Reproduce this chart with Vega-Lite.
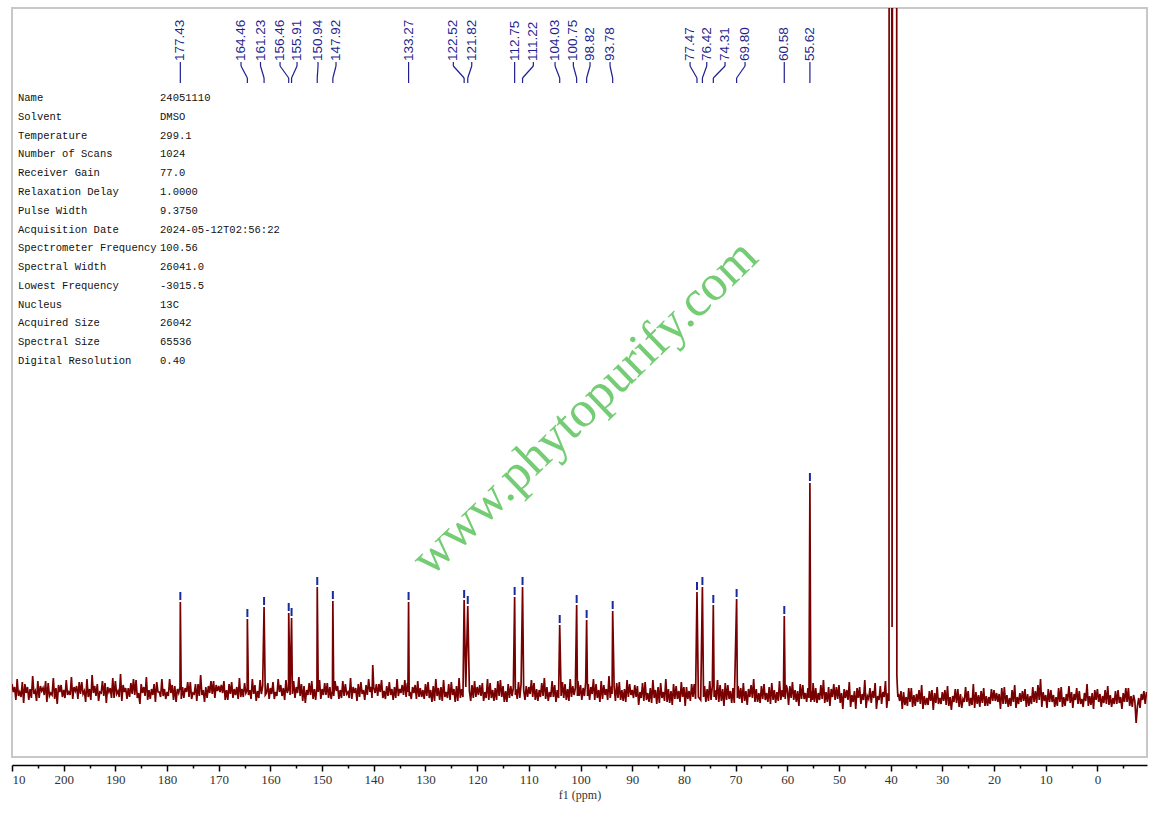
{
"$schema":"https://vega.github.io/schema/vega-lite/v6.json",
"width":1135,"height":749,
"autosize":"none",
"padding":{"left":12,"top":8,"right":11,"bottom":56},
"background":"white",
"config":{"view":{"stroke":"#c8c8c8","strokeWidth":2}},
"datasets":{
"spec":[
{"p":210,"i":9},{"p":209.75,"i":1},{"p":209.5,"i":6},{"p":209.25,"i":-7},{"p":209,"i":14},{"p":208.75,"i":-3},{"p":208.5,"i":1},{"p":208.25,"i":-4},{"p":208,"i":11},{"p":207.75,"i":-10},{"p":207.5,"i":9},{"p":207.25,"i":0},{"p":207,"i":6},{"p":206.75,"i":-7},{"p":206.5,"i":4},{"p":206.25,"i":-5},{"p":206,"i":17},{"p":205.75,"i":-1},{"p":205.5,"i":2},{"p":205.25,"i":-8},{"p":205,"i":12},{"p":204.75,"i":-5},{"p":204.5,"i":7},{"p":204.25,"i":2},{"p":204,"i":5},{"p":203.75,"i":-2},{"p":203.5,"i":12},{"p":203.25,"i":-9},{"p":203,"i":10},{"p":202.75,"i":-3},{"p":202.5,"i":0},{"p":202.25,"i":-2},{"p":202,"i":15},{"p":201.75,"i":-6},{"p":201.5,"i":5},{"p":201.25,"i":-11},{"p":201,"i":8},{"p":200.75,"i":1},{"p":200.5,"i":8},{"p":200.25,"i":-4},
{"p":200,"i":3},{"p":199.75,"i":-5},{"p":199.5,"i":13},{"p":199.25,"i":-2},{"p":199,"i":1},{"p":198.75,"i":-2},{"p":198.5,"i":16},{"p":198.25,"i":-6},{"p":198,"i":6},{"p":197.75,"i":2},{"p":197.5,"i":7},{"p":197.25,"i":-6},{"p":197,"i":11},{"p":196.75,"i":-1},{"p":196.5,"i":11},{"p":196.25,"i":-1},{"p":196,"i":2},{"p":195.75,"i":-9},{"p":195.5,"i":14},{"p":195.25,"i":-4},{"p":195,"i":4},{"p":194.75,"i":-7},{"p":194.5,"i":18},{"p":194.25,"i":0},{"p":194,"i":7},{"p":193.75,"i":-3},{"p":193.5,"i":9},{"p":193.25,"i":-8},{"p":193,"i":1},{"p":192.75,"i":0},{"p":192.5,"i":12},{"p":192.25,"i":-3},{"p":192,"i":10},{"p":191.75,"i":-10},{"p":191.5,"i":6},{"p":191.25,"i":1},{"p":191,"i":5},{"p":190.75,"i":-5},{"p":190.5,"i":15},{"p":190.25,"i":-5},
{"p":190,"i":12},{"p":189.75,"i":-1},{"p":189.5,"i":2},{"p":189.25,"i":-4},{"p":189,"i":19},{"p":188.75,"i":-8},{"p":188.5,"i":8},{"p":188.25,"i":1},{"p":188,"i":5},{"p":187.75,"i":-6},{"p":187.5,"i":5},{"p":187.25,"i":-4},{"p":187,"i":10},{"p":186.75,"i":-1},{"p":186.5,"i":14},{"p":186.25,"i":-2},{"p":186,"i":13},{"p":185.75,"i":-5},{"p":185.5,"i":0},{"p":185.25,"i":-11},{"p":185,"i":9},{"p":184.75,"i":0},{"p":184.5,"i":6},{"p":184.25,"i":-3},{"p":184,"i":16},{"p":183.75,"i":-7},{"p":183.5,"i":3},{"p":183.25,"i":-6},{"p":183,"i":4},{"p":182.75,"i":-2},{"p":182.5,"i":9},{"p":182.25,"i":-9},{"p":182,"i":11},{"p":181.75,"i":1},{"p":181.5,"i":1},{"p":181.25,"i":-4},{"p":181,"i":14},{"p":180.75,"i":-3},{"p":180.5,"i":4},{"p":180.25,"i":-6},
{"p":180,"i":1},{"p":179.75,"i":-3},{"p":179.5,"i":14},{"p":179.25,"i":0},{"p":179,"i":8},{"p":178.75,"i":-7},{"p":178.5,"i":7},{"p":178.25,"i":-9},{"p":178,"i":4},{"p":177.75,"i":0},{"p":177.5,"i":6},{"p":177.43,"i":91},{"p":177.25,"i":-6},{"p":177,"i":6},{"p":176.75,"i":-5},{"p":176.5,"i":5},{"p":176.25,"i":1},{"p":176,"i":11},{"p":175.75,"i":-4},{"p":175.5,"i":11},{"p":175.25,"i":-6},{"p":175,"i":0},{"p":174.75,"i":-1},{"p":174.5,"i":9},{"p":174.25,"i":-8},{"p":174,"i":9},{"p":173.75,"i":-3},{"p":173.5,"i":18},{"p":173.25,"i":-2},{"p":173,"i":3},{"p":172.75,"i":-9},{"p":172.5,"i":6},{"p":172.25,"i":-5},{"p":172,"i":7},{"p":171.75,"i":0},{"p":171.5,"i":12},{"p":171.25,"i":-1},{"p":171,"i":12},{"p":170.75,"i":-5},{"p":170.5,"i":8},{"p":170.25,"i":2},
{"p":170,"i":7},{"p":169.75,"i":1},{"p":169.5,"i":8},{"p":169.25,"i":0},{"p":169,"i":12},{"p":168.75,"i":-7},{"p":168.5,"i":3},{"p":168.25,"i":-7},{"p":168,"i":9},{"p":167.75,"i":-1},{"p":167.5,"i":11},{"p":167.25,"i":-5},{"p":167,"i":4},{"p":166.75,"i":-2},{"p":166.5,"i":6},{"p":166.25,"i":-6},{"p":166,"i":15},{"p":165.75,"i":-4},{"p":165.5,"i":4},{"p":165.25,"i":-4},{"p":165,"i":10},{"p":164.75,"i":0},{"p":164.5,"i":3},{"p":164.46,"i":74},{"p":164.25,"i":-2},{"p":164,"i":3},{"p":163.75,"i":-6},{"p":163.5,"i":14},{"p":163.25,"i":-1},{"p":163,"i":8},{"p":162.75,"i":-8},{"p":162.5,"i":2},{"p":162.25,"i":-5},{"p":162,"i":13},{"p":161.75,"i":-1},{"p":161.5,"i":7},{"p":161.23,"i":86},{"p":161,"i":-2},{"p":160.75,"i":0},{"p":160.5,"i":10},{"p":160.25,"i":-6},
{"p":160,"i":5},{"p":159.75,"i":-1},{"p":159.5,"i":11},{"p":159.25,"i":-6},{"p":159,"i":1},{"p":158.75,"i":-3},{"p":158.5,"i":14},{"p":158.25,"i":1},{"p":158,"i":8},{"p":157.75,"i":-3},{"p":157.5,"i":5},{"p":157.25,"i":-7},{"p":157,"i":13},{"p":156.75,"i":0},{"p":156.5,"i":4},{"p":156.46,"i":80},{"p":156.2,"i":-2},{"p":155.91,"i":75},{"p":155.75,"i":-1},{"p":155.5,"i":12},{"p":155.25,"i":-5},{"p":155,"i":6},{"p":154.75,"i":0},{"p":154.5,"i":16},{"p":154.25,"i":-3},{"p":154,"i":9},{"p":153.75,"i":-8},{"p":153.5,"i":7},{"p":153.25,"i":-10},{"p":153,"i":3},{"p":152.75,"i":-2},{"p":152.5,"i":10},{"p":152.25,"i":-2},{"p":152,"i":12},{"p":151.75,"i":-6},{"p":151.5,"i":4},{"p":151.25,"i":-7},{"p":151,"i":7},{"p":150.94,"i":106},{"p":150.75,"i":1},{"p":150.5,"i":13},{"p":150.25,"i":-6},
{"p":150,"i":4},{"p":149.75,"i":-2},{"p":149.5,"i":10},{"p":149.25,"i":-2},{"p":149,"i":10},{"p":148.75,"i":-5},{"p":148.5,"i":6},{"p":148.25,"i":-6},{"p":148,"i":2},{"p":147.92,"i":92},{"p":147.75,"i":-3},{"p":147.5,"i":12},{"p":147.25,"i":2},{"p":147,"i":7},{"p":146.75,"i":-6},{"p":146.5,"i":3},{"p":146.25,"i":-5},{"p":146,"i":12},{"p":145.75,"i":-3},{"p":145.5,"i":9},{"p":145.25,"i":-1},{"p":145,"i":1},{"p":144.75,"i":-5},{"p":144.5,"i":15},{"p":144.25,"i":-6},{"p":144,"i":6},{"p":143.75,"i":0},{"p":143.5,"i":5},{"p":143.25,"i":-8},{"p":143,"i":9},{"p":142.75,"i":-4},{"p":142.5,"i":11},{"p":142.25,"i":-1},{"p":142,"i":3},{"p":141.75,"i":-7},{"p":141.5,"i":8},{"p":141.25,"i":-2},{"p":141,"i":14},{"p":140.75,"i":1},{"p":140.5,"i":6},{"p":140.35,"i":-5},{"p":140.2,"i":28},
{"p":140,"i":5},{"p":139.75,"i":0},{"p":139.5,"i":9},{"p":139.25,"i":-3},{"p":139,"i":9},{"p":138.75,"i":1},{"p":138.5,"i":13},{"p":138.25,"i":-5},{"p":138,"i":2},{"p":137.75,"i":-6},{"p":137.5,"i":7},{"p":137.25,"i":-3},{"p":137,"i":11},{"p":136.75,"i":-2},{"p":136.5,"i":4},{"p":136.25,"i":-7},{"p":136,"i":6},{"p":135.75,"i":-5},{"p":135.5,"i":14},{"p":135.25,"i":-3},{"p":135,"i":4},{"p":134.75,"i":0},{"p":134.5,"i":8},{"p":134.25,"i":-2},{"p":134,"i":13},{"p":133.75,"i":-4},{"p":133.5,"i":10},{"p":133.4,"i":1},{"p":133.27,"i":91},{"p":133.15,"i":-3},{"p":133,"i":1},{"p":132.75,"i":-6},{"p":132.5,"i":6},{"p":132.25,"i":0},{"p":132,"i":8},{"p":131.75,"i":-6},{"p":131.5,"i":12},{"p":131.25,"i":-4},{"p":131,"i":5},{"p":130.75,"i":-4},{"p":130.5,"i":3},{"p":130.25,"i":-6},
{"p":130,"i":9},{"p":129.75,"i":-3},{"p":129.5,"i":11},{"p":129.25,"i":-5},{"p":129,"i":3},{"p":128.75,"i":-9},{"p":128.5,"i":7},{"p":128.25,"i":-8},{"p":128,"i":14},{"p":127.75,"i":-3},{"p":127.5,"i":5},{"p":127.25,"i":-7},{"p":127,"i":6},{"p":126.75,"i":-8},{"p":126.5,"i":13},{"p":126.25,"i":-4},{"p":126,"i":1},{"p":125.75,"i":-5},{"p":125.5,"i":9},{"p":125.25,"i":-7},{"p":125,"i":11},{"p":124.75,"i":-2},{"p":124.5,"i":4},{"p":124.25,"i":-9},{"p":124,"i":7},{"p":123.75,"i":-8},{"p":123.5,"i":15},{"p":123.25,"i":-5},{"p":123,"i":4},{"p":122.75,"i":-4},{"p":122.52,"i":93},{"p":122.2,"i":6},{"p":121.82,"i":87},{"p":121.5,"i":2},{"p":121.25,"i":-8},{"p":121,"i":8},{"p":120.75,"i":-5},{"p":120.5,"i":12},{"p":120.25,"i":-4},
{"p":120,"i":6},{"p":119.75,"i":-2},{"p":119.5,"i":8},{"p":119.25,"i":-3},{"p":119,"i":10},{"p":118.75,"i":-8},{"p":118.5,"i":1},{"p":118.25,"i":-5},{"p":118,"i":14},{"p":117.75,"i":-7},{"p":117.5,"i":10},{"p":117.25,"i":-5},{"p":117,"i":3},{"p":116.75,"i":-8},{"p":116.5,"i":5},{"p":116.25,"i":-7},{"p":116,"i":12},{"p":115.75,"i":-3},{"p":115.5,"i":13},{"p":115.25,"i":-4},{"p":115,"i":7},{"p":114.75,"i":-9},{"p":114.5,"i":2},{"p":114.25,"i":-9},{"p":114,"i":9},{"p":113.75,"i":-5},{"p":113.5,"i":7},{"p":113.25,"i":-3},{"p":113,"i":5},{"p":112.75,"i":96},{"p":112.6,"i":-2},{"p":112.5,"i":4},{"p":112.25,"i":-6},{"p":112,"i":11},{"p":111.75,"i":-5},{"p":111.5,"i":9},{"p":111.22,"i":106},{"p":111,"i":3},{"p":110.75,"i":-7},{"p":110.5,"i":7},{"p":110.25,"i":-4},
{"p":110,"i":6},{"p":109.75,"i":-1},{"p":109.5,"i":13},{"p":109.25,"i":-4},{"p":109,"i":10},{"p":108.75,"i":-7},{"p":108.5,"i":4},{"p":108.25,"i":-8},{"p":108,"i":3},{"p":107.75,"i":-4},{"p":107.5,"i":10},{"p":107.25,"i":-3},{"p":107,"i":15},{"p":106.75,"i":-6},{"p":106.5,"i":6},{"p":106.25,"i":-8},{"p":106,"i":1},{"p":105.75,"i":-4},{"p":105.5,"i":12},{"p":105.25,"i":-4},{"p":105,"i":8},{"p":104.75,"i":-9},{"p":104.5,"i":3},{"p":104.25,"i":-5},{"p":104.03,"i":68},{"p":103.75,"i":-3},{"p":103.5,"i":11},{"p":103.25,"i":-5},{"p":103,"i":9},{"p":102.75,"i":-7},{"p":102.5,"i":4},{"p":102.25,"i":-8},{"p":102,"i":14},{"p":101.75,"i":-4},{"p":101.5,"i":7},{"p":101.25,"i":-2},{"p":101,"i":5},{"p":100.75,"i":88},{"p":100.6,"i":-3},{"p":100.5,"i":12},{"p":100.25,"i":-3},
{"p":100,"i":8},{"p":99.75,"i":-7},{"p":99.5,"i":5},{"p":99.25,"i":-3},{"p":99,"i":11},{"p":98.82,"i":73},{"p":98.65,"i":-3},{"p":98.5,"i":9},{"p":98.25,"i":-7},{"p":98,"i":6},{"p":97.75,"i":-1},{"p":97.5,"i":14},{"p":97.25,"i":-7},{"p":97,"i":9},{"p":96.75,"i":-5},{"p":96.5,"i":3},{"p":96.25,"i":-9},{"p":96,"i":12},{"p":95.75,"i":-6},{"p":95.5,"i":8},{"p":95.25,"i":-2},{"p":95,"i":4},{"p":94.75,"i":-7},{"p":94.5,"i":17},{"p":94.25,"i":-5},{"p":94,"i":7},{"p":93.9,"i":-1},{"p":93.78,"i":82},{"p":93.5,"i":6},{"p":93.25,"i":-8},{"p":93,"i":10},{"p":92.75,"i":-5},{"p":92.5,"i":11},{"p":92.25,"i":-7},{"p":92,"i":3},{"p":91.75,"i":-8},{"p":91.5,"i":4},{"p":91.25,"i":-9},{"p":91,"i":13},{"p":90.75,"i":-4},{"p":90.5,"i":9},{"p":90.25,"i":-2},
{"p":90,"i":3},{"p":89.75,"i":-5},{"p":89.5,"i":8},{"p":89.25,"i":-4},{"p":89,"i":7},{"p":88.75,"i":-12},{"p":88.5,"i":1},{"p":88.25,"i":-5},{"p":88,"i":10},{"p":87.75,"i":-8},{"p":87.5,"i":11},{"p":87.25,"i":-7},{"p":87,"i":0},{"p":86.75,"i":-9},{"p":86.5,"i":5},{"p":86.25,"i":-10},{"p":86,"i":13},{"p":85.75,"i":-5},{"p":85.5,"i":3},{"p":85.25,"i":-11},{"p":85,"i":6},{"p":84.75,"i":-10},{"p":84.5,"i":10},{"p":84.25,"i":-5},{"p":84,"i":1},{"p":83.75,"i":-8},{"p":83.5,"i":14},{"p":83.25,"i":-9},{"p":83,"i":4},{"p":82.75,"i":-10},{"p":82.5,"i":2},{"p":82.25,"i":-12},{"p":82,"i":9},{"p":81.75,"i":-6},{"p":81.5,"i":7},{"p":81.25,"i":-6},{"p":81,"i":2},{"p":80.75,"i":-9},{"p":80.5,"i":11},{"p":80.25,"i":-4},
{"p":80,"i":6},{"p":79.75,"i":-13},{"p":79.5,"i":6},{"p":79.25,"i":-6},{"p":79,"i":2},{"p":78.75,"i":-8},{"p":78.5,"i":9},{"p":78.25,"i":-4},{"p":78,"i":9},{"p":77.75,"i":-6},{"p":77.47,"i":101},{"p":77.2,"i":-4},{"p":76.75,"i":-7},{"p":76.42,"i":106},{"p":76.2,"i":-4},{"p":76,"i":7},{"p":75.75,"i":-9},{"p":75.5,"i":4},{"p":75.25,"i":-8},{"p":75,"i":12},{"p":74.75,"i":-7},{"p":74.5,"i":7},{"p":74.31,"i":88},{"p":74.15,"i":-4},{"p":74,"i":3},{"p":73.75,"i":-7},{"p":73.5,"i":13},{"p":73.25,"i":-9},{"p":73,"i":8},{"p":72.75,"i":-8},{"p":72.5,"i":4},{"p":72.25,"i":-13},{"p":72,"i":10},{"p":71.75,"i":-7},{"p":71.5,"i":8},{"p":71.25,"i":-6},{"p":71,"i":2},{"p":70.75,"i":-10},{"p":70.5,"i":5},{"p":70.25,"i":-10},
{"p":69.8,"i":94},{"p":69.65,"i":-5},{"p":69.5,"i":7},{"p":69.25,"i":-6},{"p":69,"i":5},{"p":68.75,"i":-10},{"p":68.5,"i":10},{"p":68.25,"i":-8},{"p":68,"i":2},{"p":67.75,"i":-12},{"p":67.5,"i":4},{"p":67.25,"i":-4},{"p":67,"i":8},{"p":66.75,"i":-5},{"p":66.5,"i":14},{"p":66.25,"i":-9},{"p":66,"i":4},{"p":65.75,"i":-9},{"p":65.5,"i":0},{"p":65.25,"i":-10},{"p":65,"i":7},{"p":64.75,"i":-6},{"p":64.5,"i":9},{"p":64.25,"i":-7},{"p":64,"i":0},{"p":63.75,"i":-9},{"p":63.5,"i":6},{"p":63.25,"i":-11},{"p":63,"i":10},{"p":62.75,"i":-7},{"p":62.5,"i":3},{"p":62.25,"i":-10},{"p":62,"i":1},{"p":61.75,"i":-8},{"p":61.5,"i":12},{"p":61.25,"i":-7},{"p":61,"i":3},{"p":60.75,"i":-4},{"p":60.58,"i":77},{"p":60.4,"i":-6},{"p":60.2,"i":8},
{"p":60,"i":4},{"p":59.75,"i":-12},{"p":59.5,"i":7},{"p":59.25,"i":-5},{"p":59,"i":11},{"p":58.75,"i":-7},{"p":58.5,"i":3},{"p":58.25,"i":-9},{"p":58,"i":2},{"p":57.75,"i":-13},{"p":57.5,"i":9},{"p":57.25,"i":-6},{"p":57,"i":8},{"p":56.75,"i":-6},{"p":56.5,"i":0},{"p":56.25,"i":-9},{"p":56,"i":5},{"p":55.8,"i":-5},{"p":55.62,"i":210},{"p":55.45,"i":-9},{"p":55.3,"i":2},{"p":55.15,"i":-7},{"p":55,"i":10},{"p":54.75,"i":-9},{"p":54.5,"i":5},{"p":54.25,"i":-10},{"p":54,"i":0},{"p":53.75,"i":-7},{"p":53.5,"i":8},{"p":53.25,"i":-6},{"p":53,"i":13},{"p":52.75,"i":-10},{"p":52.5,"i":1},{"p":52.25,"i":-9},{"p":52,"i":6},{"p":51.75,"i":-13},{"p":51.5,"i":4},{"p":51.25,"i":-4},{"p":51,"i":9},{"p":50.75,"i":-7},{"p":50.5,"i":6},{"p":50.25,"i":-6},
{"p":50,"i":8},{"p":49.75,"i":-10},{"p":49.5,"i":0},{"p":49.25,"i":-16},{"p":49,"i":4},{"p":48.75,"i":-5},{"p":48.5,"i":3},{"p":48.25,"i":-7},{"p":48,"i":11},{"p":47.75,"i":-14},{"p":47.5,"i":-2},{"p":47.25,"i":-9},{"p":47,"i":2},{"p":46.75,"i":-16},{"p":46.5,"i":5},{"p":46.25,"i":-5},{"p":46,"i":6},{"p":45.75,"i":-11},{"p":45.5,"i":-1},{"p":45.25,"i":-7},{"p":45,"i":13},{"p":44.75,"i":-15},{"p":44.5,"i":-3},{"p":44.25,"i":-6},{"p":44,"i":5},{"p":43.75,"i":-10},{"p":43.5,"i":2},{"p":43.25,"i":-5},{"p":43,"i":10},{"p":42.75,"i":-16},{"p":42.5,"i":-3},{"p":42.25,"i":-7},{"p":42,"i":7},{"p":41.75,"i":-11},{"p":41.5,"i":1},{"p":41.25,"i":-4},{"p":41,"i":12},{"p":40.75,"i":-15},{"p":40.5,"i":0},
{"p":40.32,"i":-8},{"p":40.22,"i":3000},{"p":40.0,"i":3000},{"p":39.72,"i":66},{"p":39.45,"i":3000},{"p":38.92,"i":3000},{"p":38.8,"i":18},{"p":38.72,"i":8},{"p":38.6,"i":-4},
{"p":38.5,"i":-1},{"p":38.25,"i":-8},{"p":38,"i":2},{"p":37.75,"i":-16},{"p":37.5,"i":1},{"p":37.25,"i":-12},{"p":37,"i":-4},{"p":36.75,"i":-13},{"p":36.5,"i":5},{"p":36.25,"i":-9},{"p":36,"i":5},{"p":35.75,"i":-14},{"p":35.5,"i":-2},{"p":35.25,"i":-13},{"p":35,"i":-1},{"p":34.75,"i":-9},{"p":34.5,"i":3},{"p":34.25,"i":-11},{"p":34,"i":8},{"p":33.75,"i":-16},{"p":33.5,"i":-3},{"p":33.25,"i":-12},{"p":33,"i":-5},{"p":32.75,"i":-12},{"p":32.5,"i":2},{"p":32.25,"i":-8},{"p":32,"i":3},{"p":31.75,"i":-17},{"p":31.5,"i":0},{"p":31.25,"i":-10},{"p":31,"i":6},{"p":30.75,"i":-11},{"p":30.5,"i":-5},{"p":30.25,"i":-11},
{"p":30,"i":1},{"p":29.75,"i":-8},{"p":29.5,"i":3},{"p":29.25,"i":-12},{"p":29,"i":7},{"p":28.75,"i":-13},{"p":28.5,"i":-4},{"p":28.25,"i":-17},{"p":28,"i":-3},{"p":27.75,"i":-9},{"p":27.5,"i":4},{"p":27.25,"i":-10},{"p":27,"i":4},{"p":26.75,"i":-14},{"p":26.5,"i":-1},{"p":26.25,"i":-15},{"p":26,"i":-6},{"p":25.75,"i":-9},{"p":25.5,"i":6},{"p":25.25,"i":-9},{"p":25,"i":2},{"p":24.75,"i":-13},{"p":24.5,"i":-5},{"p":24.25,"i":-12},{"p":24,"i":9},{"p":23.75,"i":-15},{"p":23.5,"i":1},{"p":23.25,"i":-11},{"p":23,"i":-2},{"p":22.75,"i":-14},{"p":22.5,"i":2},{"p":22.25,"i":-10},{"p":22,"i":5},{"p":21.75,"i":-13},{"p":21.5,"i":-3},{"p":21.25,"i":-13},{"p":21,"i":-4},{"p":20.75,"i":-11},{"p":20.5,"i":4},{"p":20.25,"i":-8},
{"p":20,"i":3},{"p":19.75,"i":-8},{"p":19.5,"i":0},{"p":19.25,"i":-9},{"p":19,"i":-1},{"p":18.75,"i":-16},{"p":18.5,"i":5},{"p":18.25,"i":-11},{"p":18,"i":6},{"p":17.75,"i":-11},{"p":17.5,"i":-2},{"p":17.25,"i":-14},{"p":17,"i":-5},{"p":16.75,"i":-13},{"p":16.5,"i":3},{"p":16.25,"i":-9},{"p":16,"i":8},{"p":15.75,"i":-15},{"p":15.5,"i":-4},{"p":15.25,"i":-11},{"p":15,"i":0},{"p":14.75,"i":-9},{"p":14.5,"i":2},{"p":14.25,"i":-8},{"p":14,"i":4},{"p":13.75,"i":-14},{"p":13.5,"i":-1},{"p":13.25,"i":-13},{"p":13,"i":-3},{"p":12.75,"i":-11},{"p":12.5,"i":6},{"p":12.25,"i":-9},{"p":12,"i":2},{"p":11.75,"i":-10},{"p":11.5,"i":8},{"p":11.25,"i":-7},{"p":11,"i":14},{"p":10.75,"i":-14},{"p":10.5,"i":1},{"p":10.25,"i":-8},
{"p":10,"i":-2},{"p":9.75,"i":-15},{"p":9.5,"i":4},{"p":9.25,"i":-9},{"p":9,"i":3},{"p":8.75,"i":-9},{"p":8.5,"i":-2},{"p":8.25,"i":-14},{"p":8,"i":-4},{"p":7.75,"i":-13},{"p":7.5,"i":5},{"p":7.25,"i":-9},{"p":7,"i":6},{"p":6.75,"i":-14},{"p":6.5,"i":-4},{"p":6.25,"i":-13},{"p":6,"i":-1},{"p":5.75,"i":-8},{"p":5.5,"i":7},{"p":5.25,"i":-10},{"p":5,"i":1},{"p":4.75,"i":-15},{"p":4.5,"i":-1},{"p":4.25,"i":-7},{"p":4,"i":5},{"p":3.75,"i":-11},{"p":3.5,"i":2},{"p":3.25,"i":-11},{"p":3,"i":-6},{"p":2.75,"i":-14},{"p":2.5,"i":0},{"p":2.25,"i":-8},{"p":2,"i":9},{"p":1.75,"i":-13},{"p":1.5,"i":-3},{"p":1.25,"i":-12},{"p":1,"i":0},{"p":0.75,"i":-16},{"p":0.5,"i":3},{"p":0.25,"i":-7},
{"p":0,"i":4},{"p":-0.25,"i":-9},{"p":-0.5,"i":-1},{"p":-0.75,"i":-14},{"p":-1,"i":-3},{"p":-1.25,"i":-10},{"p":-1.5,"i":3},{"p":-1.75,"i":-11},{"p":-2,"i":7},{"p":-2.25,"i":-12},{"p":-2.5,"i":-2},{"p":-2.75,"i":-14},{"p":-3,"i":-5},{"p":-3.25,"i":-11},{"p":-3.5,"i":2},{"p":-3.75,"i":-11},{"p":-4,"i":3},{"p":-4.25,"i":-10},{"p":-4.5,"i":-4},{"p":-4.75,"i":-16},{"p":-5,"i":0},{"p":-5.25,"i":-9},{"p":-5.5,"i":5},{"p":-5.75,"i":-9},{"p":-6,"i":5},{"p":-6.25,"i":-13},{"p":-6.5,"i":-3},{"p":-6.75,"i":-14},{"p":-7,"i":-2},{"p":-7.25,"i":-8},{"p":-7.5,"i":-30},{"p":-7.75,"i":-13},{"p":-8,"i":-5},{"p":-8.25,"i":-15},{"p":-8.5,"i":-1},{"p":-8.75,"i":-7},{"p":-9,"i":2},{"p":-9.25,"i":-11},{"p":-9.5,"i":1}
],
"peaks":[
{"ppm":177.43,"lp":177.43,"h":91},
{"ppm":164.46,"lp":165.69,"h":74},
{"ppm":161.23,"lp":161.92,"h":86},
{"ppm":156.46,"lp":158.14,"h":80},
{"ppm":155.91,"lp":154.85,"h":75},
{"ppm":150.94,"lp":150.79,"h":106},
{"ppm":147.92,"lp":147.31,"h":92},
{"ppm":133.27,"lp":133.27,"h":91},
{"ppm":122.52,"lp":124.61,"h":93},
{"ppm":121.82,"lp":121.05,"h":87},
{"ppm":112.75,"lp":112.75,"h":96},
{"ppm":111.22,"lp":109.13,"h":106},
{"ppm":104.03,"lp":104.93,"h":68},
{"ppm":100.75,"lp":101.39,"h":88},
{"ppm":98.82,"lp":98.16,"h":73},
{"ppm":93.78,"lp":94.29,"h":82},
{"ppm":77.47,"lp":78.81,"h":101},
{"ppm":76.42,"lp":75.58,"h":106},
{"ppm":74.31,"lp":72.04,"h":88},
{"ppm":69.80,"lp":68.17,"h":94},
{"ppm":60.58,"lp":60.58,"h":77},
{"ppm":55.62,"lp":55.62,"h":210}
],
"info":[
{"k":"Name","v":"24051110"},
{"k":"Solvent","v":"DMSO"},
{"k":"Temperature","v":"299.1"},
{"k":"Number of Scans","v":"1024"},
{"k":"Receiver Gain","v":"77.0"},
{"k":"Relaxation Delay","v":"1.0000"},
{"k":"Pulse Width","v":"9.3750"},
{"k":"Acquisition Date","v":"2024-05-12T02:56:22"},
{"k":"Spectrometer Frequency","v":"100.56"},
{"k":"Spectral Width","v":"26041.0"},
{"k":"Lowest Frequency","v":"-3015.5"},
{"k":"Nucleus","v":"13C"},
{"k":"Acquired Size","v":"26042"},
{"k":"Spectral Size","v":"65536"},
{"k":"Digital Resolution","v":"0.40"}
],
"wm":[{"t":"www.phytopurify.com"}]
},
"resolve":{"scale":{"y":"independent"},"axis":{"x":"independent"}},
"layer":[
{"data":{"name":"wm"},
 "mark":{"type":"text","angle":316,"align":"center","baseline":"middle","font":"Liberation Serif","fontSize":51,"fill":"#5cc45c","opacity":0.85},
 "encoding":{
  "x":{"datum":99.13,"type":"quantitative","scale":{"domain":[-9.6,210],"reverse":true,"nice":false,"zero":false},"axis":null},
  "y":{"datum":285,"type":"quantitative","scale":{"domain":[-64,685],"nice":false,"zero":false},"axis":null},
  "text":{"field":"t","type":"nominal"}}},
{"data":{"name":"info"},
 "transform":[{"window":[{"op":"row_number","as":"row"}]}],
 "mark":{"type":"text","align":"left","baseline":"middle","font":"Liberation Mono","fontSize":10.5,"fill":"#111111"},
 "encoding":{
  "x":{"datum":208.84,"type":"quantitative","scale":{"domain":[-9.6,210],"reverse":true,"nice":false,"zero":false},"axis":null},
  "y":{"field":"row","type":"quantitative","scale":{"domain":[-3.79,36.07],"reverse":true,"nice":false,"zero":false},"axis":null},
  "text":{"field":"k","type":"nominal"}}},
{"data":{"name":"info"},
 "transform":[{"window":[{"op":"row_number","as":"row"}]}],
 "mark":{"type":"text","align":"left","baseline":"middle","font":"Liberation Mono","fontSize":10.5,"fill":"#111111"},
 "encoding":{
  "x":{"datum":181.36,"type":"quantitative","scale":{"domain":[-9.6,210],"reverse":true,"nice":false,"zero":false},"axis":null},
  "y":{"field":"row","type":"quantitative","scale":{"domain":[-3.79,36.07],"reverse":true,"nice":false,"zero":false},"axis":null},
  "text":{"field":"v","type":"nominal"}}},
{"data":{"name":"spec"},
 "mark":{"type":"line","color":"#780000","strokeWidth":1.7,"clip":true},
 "encoding":{
  "x":{"field":"p","type":"quantitative","scale":{"domain":[-9.6,210],"reverse":true,"nice":false,"zero":false},
   "axis":{"orient":"bottom","offset":8,"values":[210,200,190,180,170,160,150,140,130,120,110,100,90,80,70,60,50,40,30,20,10,0],
    "tickSize":6,"tickWidth":1.5,"tickColor":"#000000","domainColor":"#000000","domainWidth":1.5,"grid":false,
    "labelFont":"Liberation Serif","labelFontSize":13,"labelColor":"#333333","labelPadding":2,"labelFlush":true,
    "labelExpr":"datum.value == 210 ? '10' : datum.label",
    "title":"f1 (ppm)","titleFont":"Liberation Serif","titleFontSize":12,"titleFontWeight":"normal","titleColor":"#333333","titlePadding":3}},
  "y":{"field":"i","type":"quantitative","scale":{"domain":[-64,685],"nice":false,"zero":false},"axis":null}}},
{"data":{"name":"peaks"},
 "mark":{"type":"tick","orient":"vertical","size":8,"thickness":2,"color":"#1a2a9a","opacity":1,"yOffset":-6},
 "encoding":{
  "x":{"field":"ppm","type":"quantitative","scale":{"domain":[-9.6,210],"reverse":true,"nice":false,"zero":false},
   "axis":{"orient":"bottom","offset":8,"values":[205,195,185,175,165,155,145,135,125,115,105,95,85,75,65,55,45,35,25,15,5,-5],
    "tickSize":3,"tickWidth":1.5,"tickColor":"#000000","domain":false,"labels":false,"grid":false,"title":null}},
  "y":{"field":"h","type":"quantitative","scale":{"domain":[-64,685],"nice":false,"zero":false},"axis":null}}},
{"data":{"name":"peaks"},
 "mark":{"type":"rule","color":"#1f1f8f","strokeWidth":1.2},
 "encoding":{
  "x":{"field":"ppm","type":"quantitative","scale":{"domain":[-9.6,210],"reverse":true,"nice":false,"zero":false},"axis":null},
  "y":{"datum":610,"type":"quantitative","scale":{"domain":[-64,685],"nice":false,"zero":false},"axis":null},
  "y2":{"datum":615}}},
{"data":{"name":"peaks"},
 "mark":{"type":"rule","color":"#1f1f8f","strokeWidth":1.2},
 "encoding":{
  "x":{"field":"ppm","type":"quantitative","scale":{"domain":[-9.6,210],"reverse":true,"nice":false,"zero":false},"axis":null},
  "x2":{"field":"lp"},
  "y":{"datum":615,"type":"quantitative","scale":{"domain":[-64,685],"nice":false,"zero":false},"axis":null},
  "y2":{"datum":627}}},
{"data":{"name":"peaks"},
 "mark":{"type":"rule","color":"#1f1f8f","strokeWidth":1.2},
 "encoding":{
  "x":{"field":"lp","type":"quantitative","scale":{"domain":[-9.6,210],"reverse":true,"nice":false,"zero":false},"axis":null},
  "y":{"datum":627,"type":"quantitative","scale":{"domain":[-64,685],"nice":false,"zero":false},"axis":null},
  "y2":{"datum":631}}},
{"data":{"name":"peaks"},
 "mark":{"type":"text","angle":270,"align":"left","baseline":"middle","font":"Liberation Sans","fontSize":13.5,"fill":"#1f1f8f"},
 "encoding":{
  "x":{"field":"lp","type":"quantitative","scale":{"domain":[-9.6,210],"reverse":true,"nice":false,"zero":false},"axis":null},
  "y":{"datum":632,"type":"quantitative","scale":{"domain":[-64,685],"nice":false,"zero":false},"axis":null},
  "text":{"field":"ppm","type":"quantitative","format":".2f"}}}
]
}
